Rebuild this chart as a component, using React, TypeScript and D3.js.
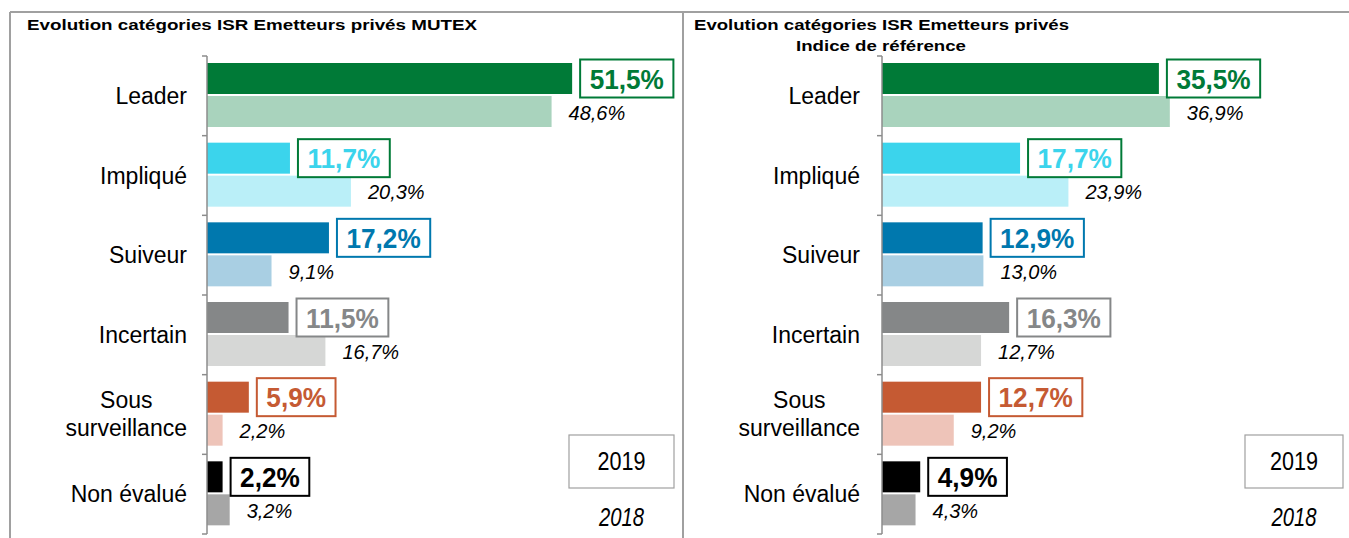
import React, { useEffect, useRef } from 'react';
import * as d3 from 'd3';

const categories = ['Leader', 'Impliqué', 'Suiveur', 'Incertain', 'Sous surveillance', 'Non évalué'];
const mutex2019 = [51.5, 11.7, 17.2, 11.5, 5.9, 2.2];
const mutex2018 = [48.6, 20.3, 9.1, 16.7, 2.2, 3.2];
const indice2019 = [35.5, 17.7, 12.9, 16.3, 12.7, 4.9];
const indice2018 = [36.9, 23.9, 13.0, 12.7, 9.2, 4.3];
const years = ['2019', '2018'];

const color2019 = ['#007a37', '#3bd4ec', '#0078ae', '#858788', '#c55a33', '#000000'];
const color2018 = ['#a9d3bd', '#baeff8', '#a9cfe3', '#d6d7d6', '#eec4b9', '#a6a6a6'];
const boxStroke = ['#007a37', '#007a37', '#0078ae', '#858788', '#c55a33', '#000000'];

const fmt = (v: number) => d3.format('.1f')(v).replace('.', ',') + '%';

const panels = [
  {
    title: ['Evolution catégories ISR Emetteurs privés MUTEX'],
    v2019: mutex2019,
    v2018: mutex2018,
    axisX: 207,
    pxPerPct: 7.09,
    labelRight: 187,
    legend: { x: 569, w: 105 },
  },
  {
    title: ['Evolution catégories ISR Emetteurs privés', 'Indice de référence'],
    v2019: indice2019,
    v2018: indice2018,
    axisX: 882,
    pxPerPct: 7.8,
    labelRight: 860,
    legend: { x: 1245, w: 98 },
  },
];

const App = () => {
  const ref = useRef<SVGSVGElement>(null);

  useEffect(() => {
    const svg = d3.select(ref.current);
    svg.selectAll('*').remove();

    // outer frame
    const frame = svg.append('g').attr('stroke', '#a0a0a0').attr('stroke-width', 2);
    frame.append('line').attr('x1', 10).attr('x2', 1349).attr('y1', 12).attr('y2', 12);
    frame.append('line').attr('x1', 10).attr('x2', 10).attr('y1', 12).attr('y2', 538);
    frame.append('line').attr('x1', 683).attr('x2', 683).attr('y1', 12).attr('y2', 538);

    // titles
    svg.append('text')
      .attr('x', 27).attr('y', 30)
      .attr('font-size', 15.5).attr('font-weight', 'bold')
      .attr('textLength', 450).attr('lengthAdjust', 'spacingAndGlyphs')
      .text(panels[0].title[0]);
    svg.append('text')
      .attr('x', 694).attr('y', 30)
      .attr('font-size', 15.5).attr('font-weight', 'bold')
      .attr('textLength', 375).attr('lengthAdjust', 'spacingAndGlyphs')
      .text(panels[1].title[0]);
    svg.append('text')
      .attr('x', 881).attr('y', 51)
      .attr('text-anchor', 'middle')
      .attr('font-size', 15.5).attr('font-weight', 'bold')
      .attr('textLength', 170).attr('lengthAdjust', 'spacingAndGlyphs')
      .text(panels[1].title[1]);

    const y = d3.scaleBand().domain(categories).range([56, 534]).paddingInner(0).paddingOuter(0);
    const step = y.step();

    panels.forEach(p => {
      const x = d3.scaleLinear().domain([0, 60]).range([p.axisX, p.axisX + 60 * p.pxPerPct]);
      const g = svg.append('g');

      // bars 2019 and 2018
      g.selectAll('rect.b19')
        .data(categories)
        .enter()
        .append('rect')
        .attr('x', x(0))
        .attr('y', d => (y(d) as number) + 7)
        .attr('height', 31)
        .attr('width', (d, i) => x(p.v2019[i]) - x(0))
        .attr('fill', (d, i) => color2019[i]);

      g.selectAll('rect.b18')
        .data(categories)
        .enter()
        .append('rect')
        .attr('x', x(0))
        .attr('y', d => (y(d) as number) + 40)
        .attr('height', 31)
        .attr('width', (d, i) => x(p.v2018[i]) - x(0))
        .attr('fill', (d, i) => color2018[i]);

      // axis line + ticks
      const ax = g.append('g').attr('stroke', '#8c8c8c').attr('stroke-width', 1.5);
      ax.append('line').attr('x1', p.axisX).attr('x2', p.axisX).attr('y1', 56).attr('y2', 534);
      d3.range(categories.length + 1).forEach(k => {
        const ty = 56 + k * step;
        ax.append('line').attr('x1', p.axisX - 5).attr('x2', p.axisX).attr('y1', ty).attr('y2', ty);
      });

      // category labels
      categories.forEach(c => {
        const cy = (y(c) as number) + step / 2;
        if (c === 'Sous surveillance') {
          const t2 = g.append('text')
            .attr('x', p.labelRight).attr('y', cy + 21)
            .attr('text-anchor', 'end').attr('font-size', 23)
            .text('surveillance');
          const w = (t2.node() as SVGTextElement).getComputedTextLength();
          g.append('text')
            .attr('x', p.labelRight - w / 2).attr('y', cy - 7)
            .attr('text-anchor', 'middle').attr('font-size', 23)
            .text('Sous');
        } else {
          g.append('text')
            .attr('x', p.labelRight).attr('y', cy + 8)
            .attr('text-anchor', 'end').attr('font-size', 23)
            .text(c);
        }
      });

      // boxed 2019 values
      categories.forEach((c, i) => {
        const bx = x(p.v2019[i]) + 8;
        const cy = (y(c) as number) + 7 + 15.5;
        const bg = g.append('g');
        const rect = bg.append('rect')
          .attr('y', cy - 19).attr('height', 38)
          .attr('fill', '#fff')
          .attr('stroke', boxStroke[i]).attr('stroke-width', 2);
        const t = bg.append('text')
          .attr('y', cy + 10)
          .attr('text-anchor', 'middle')
          .attr('font-size', 27).attr('font-weight', 'bold')
          .attr('fill', color2019[i])
          .text(fmt(p.v2019[i]));
        const tw = (t.node() as SVGTextElement).getComputedTextLength() * 0.97;
        t.attr('textLength', tw).attr('lengthAdjust', 'spacingAndGlyphs');
        const w = tw + 19;
        rect.attr('x', bx).attr('width', w);
        t.attr('x', bx + w / 2);
      });

      // italic 2018 values
      g.selectAll('text.v18')
        .data(categories)
        .enter()
        .append('text')
        .attr('x', (d, i) => x(p.v2018[i]) + 17)
        .attr('y', d => (y(d) as number) + 40 + 15.5 + 8)
        .attr('font-size', 20)
        .attr('font-style', 'italic')
        .text((d, i) => fmt(p.v2018[i]));

      // year legend
      const lx = p.legend.x + p.legend.w / 2;
      g.append('rect')
        .attr('x', p.legend.x).attr('y', 435)
        .attr('width', p.legend.w).attr('height', 53)
        .attr('fill', '#fff').attr('stroke', '#a0a0a0').attr('stroke-width', 1.2);
      g.append('text')
        .attr('x', lx).attr('y', 470)
        .attr('text-anchor', 'middle').attr('font-size', 25)
        .attr('textLength', 48).attr('lengthAdjust', 'spacingAndGlyphs')
        .text(years[0]);
      g.append('text')
        .attr('x', lx).attr('y', 526)
        .attr('text-anchor', 'middle').attr('font-size', 26).attr('font-style', 'italic')
        .attr('textLength', 45).attr('lengthAdjust', 'spacingAndGlyphs')
        .text(years[1]);
    });
  }, []);

  return (
    <svg
      ref={ref}
      width={1349}
      height={538}
      style={{ position: 'absolute', left: 0, top: 0, fontFamily: '"Liberation Sans", Arial, sans-serif' }}
    />
  );
};

export default App;
